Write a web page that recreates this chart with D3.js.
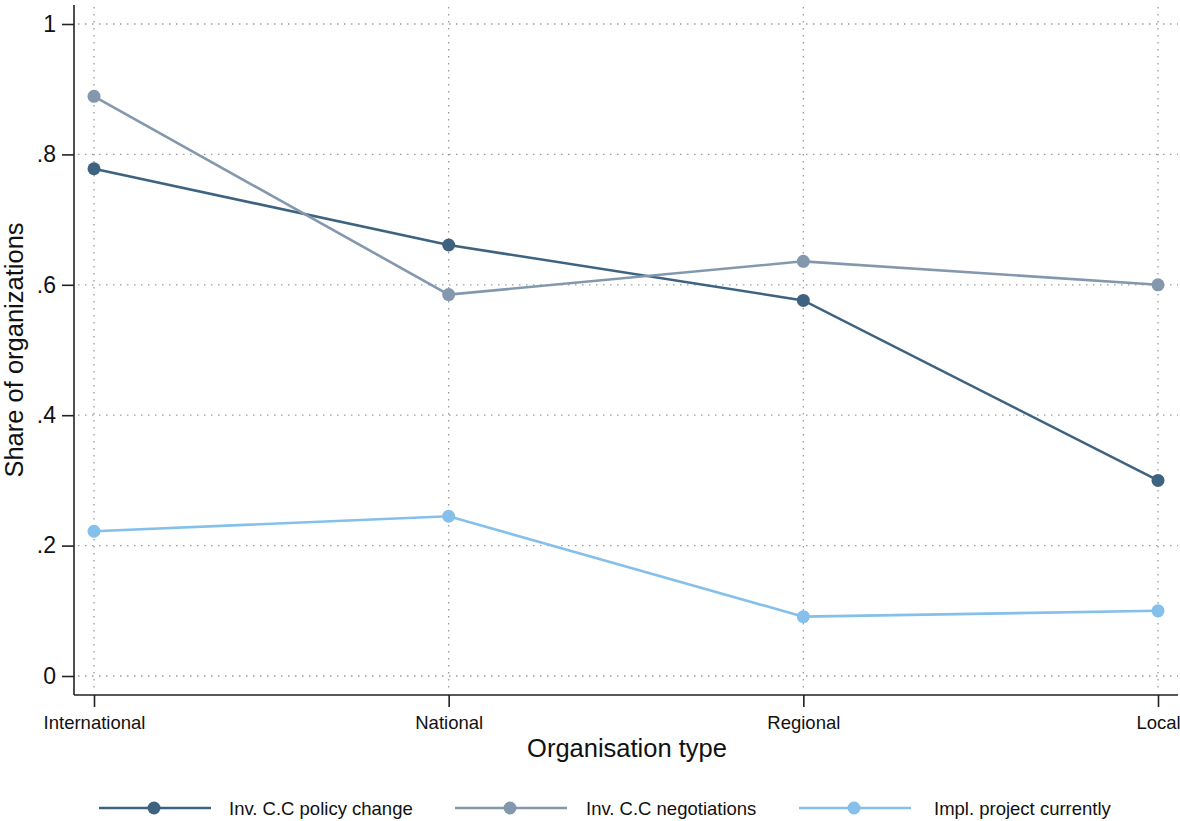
<!DOCTYPE html>
<html>
<head>
<meta charset="utf-8">
<script src="https://cdn.jsdelivr.net/npm/d3@7"></script>
<style>
  html, body { margin: 0; padding: 0; background: #fff; }
  svg { display: block; font-family: Arial, "Liberation Sans", sans-serif; }
</style>
</head>
<body>
<svg id="chart" width="1180" height="821"></svg>
<script>
// Organisation types along the x axis
const categories = ["International", "National", "Regional", "Local"];

// Share of organizations for each series
const policyChange = [0.778, 0.661, 0.576, 0.300];
const negotiations = [0.889, 0.585, 0.636, 0.600];
const implProject = [0.222, 0.245, 0.091, 0.100];

const yTicks = [0, 0.2, 0.4, 0.6, 0.8, 1];
const yTickLabels = ["0", ".2", ".4", ".6", ".8", "1"];

const seriesNames = ["Inv. C.C policy change", "Inv. C.C negotiations", "Impl. project currently"];
const seriesColors = ["#3d6381", "#8498ad", "#84c0ea"];
const seriesValues = [policyChange, negotiations, implProject];

const svg = d3.select("#chart");

const plot = { left: 74, right: 1178, top: 5, bottom: 695 };

const x = d3.scalePoint()
  .domain(categories)
  .range([94, 1158]);

const y = d3.scaleLinear()
  .domain([0, 1])
  .range([676, 24]);

// Grid lines
const grid = svg.append("g");
grid.selectAll("line.hgrid")
  .data(yTicks)
  .join("line")
  .attr("x1", plot.left + 4)
  .attr("x2", plot.right)
  .attr("y1", d => y(d))
  .attr("y2", d => y(d))
  .attr("stroke", "#9a9a9a")
  .attr("stroke-width", 1.3)
  .attr("stroke-dasharray", "1.5 5.5");
grid.selectAll("line.vgrid")
  .data(categories)
  .join("line")
  .attr("x1", d => x(d))
  .attr("x2", d => x(d))
  .attr("y1", plot.top + 2)
  .attr("y2", plot.bottom - 5)
  .attr("stroke", "#9a9a9a")
  .attr("stroke-width", 1.3)
  .attr("stroke-dasharray", "1.5 5.5");

// Y axis
const yAxis = svg.append("g")
  .attr("transform", `translate(${plot.left},0)`)
  .call(d3.axisLeft(y).tickValues(yTicks).tickFormat((d, i) => yTickLabels[i]).tickSize(12).tickPadding(6));
yAxis.select(".domain").attr("d", `M0,${plot.top}V${plot.bottom}`).attr("stroke", "#222").attr("stroke-width", 1.6);
yAxis.selectAll(".tick line").attr("stroke", "#222").attr("stroke-width", 1.6);
yAxis.selectAll(".tick text").attr("font-size", 23).attr("fill", "#111").attr("font-family", "Arial, 'Liberation Sans', sans-serif");

// X axis
const xAxis = svg.append("g")
  .attr("transform", `translate(0,${plot.bottom})`)
  .call(d3.axisBottom(x).tickSize(12).tickPadding(9));
xAxis.select(".domain").attr("d", `M${plot.left},0H${plot.right}`).attr("stroke", "#222").attr("stroke-width", 1.6);
xAxis.selectAll(".tick line").attr("stroke", "#222").attr("stroke-width", 1.6);
xAxis.selectAll(".tick text").attr("font-size", 18.5).attr("fill", "#111").attr("font-family", "Arial, 'Liberation Sans', sans-serif");

// Axis titles
svg.append("text")
  .attr("x", 627)
  .attr("y", 757)
  .attr("text-anchor", "middle")
  .attr("font-size", 25.5)
  .attr("fill", "#111")
  .text("Organisation type");

svg.append("text")
  .attr("transform", `translate(23,${y(0.5)}) rotate(-90)`)
  .attr("text-anchor", "middle")
  .attr("font-size", 25.5)
  .attr("fill", "#111")
  .text("Share of organizations");

// Series lines and markers
const line = d3.line()
  .x((d, i) => x(categories[i]))
  .y(d => y(d));

seriesValues.forEach((vals, s) => {
  const g = svg.append("g");
  g.append("path")
    .datum(vals)
    .attr("d", line)
    .attr("fill", "none")
    .attr("stroke", seriesColors[s])
    .attr("stroke-width", 2.6);
  g.selectAll("circle")
    .data(vals)
    .join("circle")
    .attr("cx", (d, i) => x(categories[i]))
    .attr("cy", d => y(d))
    .attr("r", 6.5)
    .attr("fill", seriesColors[s]);
});

// Legend: key line with marker, then label
const legendX = [99, 455, 799];
const legendTextX = [229, 586, 934];
const legendY = 808;
const legend = svg.append("g");
seriesNames.forEach((name, s) => {
  const lx = legendX[s];
  legend.append("line")
    .attr("x1", lx).attr("x2", lx + 112)
    .attr("y1", legendY).attr("y2", legendY)
    .attr("stroke", seriesColors[s])
    .attr("stroke-width", 2.6);
  legend.append("circle")
    .attr("cx", lx + 55).attr("cy", legendY)
    .attr("r", 6.5)
    .attr("fill", seriesColors[s]);
  legend.append("text")
    .attr("x", legendTextX[s])
    .attr("y", legendY + 7)
    .attr("font-size", 18.5)
    .attr("fill", "#111")
    .text(name);
});
</script>
</body>
</html>
